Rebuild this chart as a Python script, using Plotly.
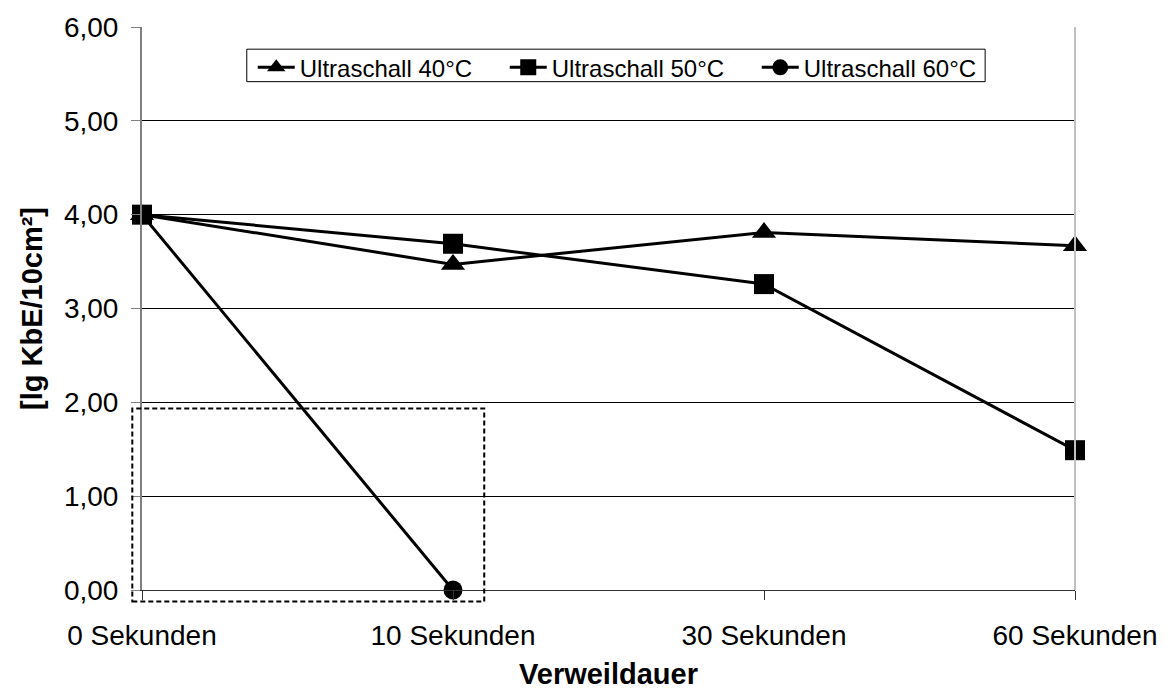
import plotly.graph_objects as go

categories = ["0 Sekunden", "10 Sekunden", "30 Sekunden", "60 Sekunden"]
series_names = ["Ultraschall 40°C", "Ultraschall 50°C", "Ultraschall 60°C"]
values_40 = [4.00, 3.47, 3.81, 3.67]
values_50 = [4.00, 3.69, 3.26, 1.49]
values_60 = [4.00, 0.00, None, None]
symbols = ["triangle-up", "square", "circle"]
sizes = [21, 20, 19]

x_pos = list(range(len(categories)))
FONT = "Liberation Sans, Arial, sans-serif"

fig = go.Figure()
for name, vals, sym, sz in zip(series_names, [values_40, values_50, values_60], symbols, sizes):
    fig.add_trace(go.Scatter(
        x=x_pos, y=vals, name=name, mode="lines+markers",
        line=dict(color="black", width=3),
        marker=dict(symbol=sym, size=sz, color="black"),
        cliponaxis=False, connectgaps=False,
    ))

fig.update_layout(
    width=1170, height=697,
    paper_bgcolor="white", plot_bgcolor="white",
    margin=dict(l=142, r=93, t=20, b=106),
    separators=",.",
    font=dict(family=FONT, size=28, color="black"),
    showlegend=True,
    legend=dict(
        orientation="h", x=0.1187, y=0.9676, xanchor="left", yanchor="top",
        borderwidth=0, bgcolor="rgba(0,0,0,0)",
        font=dict(size=24), itemwidth=37, entrywidth=200, tracegroupgap=0,
    ),
    xaxis=dict(
        range=[0, 3], tickvals=x_pos, ticktext=categories,
        showgrid=False, zeroline=False,
        showline=True, linecolor="#333333", linewidth=1,
        ticks="outside", ticklen=9, tickcolor="#333333",
        ticklabelstandoff=11,
        title=dict(text="<b>Verweildauer</b>", font=dict(size=29), standoff=14),
    ),
    yaxis=dict(
        range=[0, 6], dtick=1, tickformat=".2f",
        showgrid=True, gridcolor="black", gridwidth=1, zeroline=False,
        showline=True, linecolor="#808080", linewidth=2,
        ticks="outside", ticklen=9, tickcolor="#808080",
        ticklabelstandoff=7, ticklabeloverflow="allow",
        title=dict(text="<b>[lg KbE/10cm²]</b>", font=dict(size=29), standoff=13),
    ),
)

# right border of plot area
fig.add_shape(type="line", xref="paper", yref="paper", x0=1, x1=1, y0=0, y1=1,
              line=dict(color="#c0c0c0", width=2))
# legend frame
fig.add_shape(type="rect", xref="paper", yref="paper",
              x0=0.1123, x1=0.9037, y0=0.9029, y1=0.9606,
              line=dict(color="black", width=1), fillcolor="white", layer="below")
# dashed highlight box
fig.add_shape(type="rect", xref="paper", yref="paper",
              x0=-0.0104, x1=0.3668, y0=-0.0205, y1=0.3225,
              line=dict(color="black", width=2, dash="5px,3px"), layer="above")

fig.write_html(
    "out.html",
    config={"displayModeBar": False},
    post_script="document.body.style.margin='0';document.body.style.overflow='hidden';",
)
